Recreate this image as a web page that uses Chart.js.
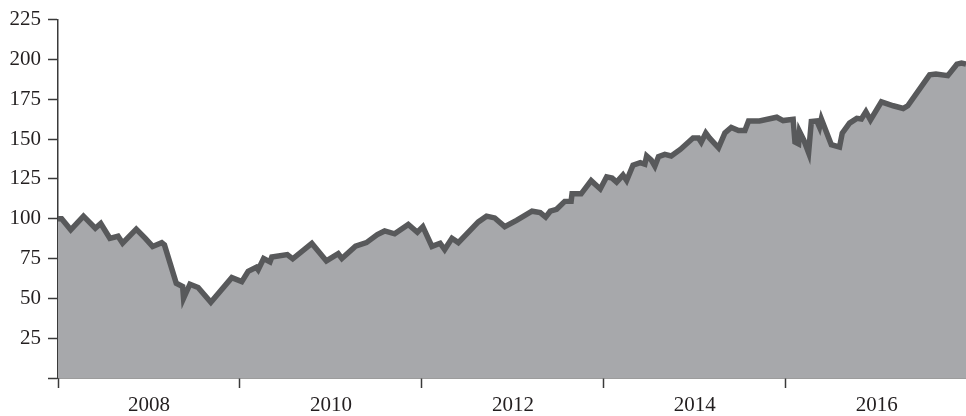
<!DOCTYPE html>
<html>
<head>
<meta charset="utf-8">
<script src="https://cdn.jsdelivr.net/npm/chart.js@4/dist/chart.umd.min.js"></script>
<style>
  html, body { margin: 0; padding: 0; background: #fff; }
  #wrap { width: 966px; height: 416px; }
</style>
</head>
<body>
<div id="wrap"><canvas id="indexChart" width="966" height="416"></canvas></div>
<script>
// decimal years and index values
const years = [
  2007.00, 2007.04, 2007.14, 2007.28, 2007.41, 2007.47, 2007.57, 2007.66, 2007.71, 2007.86,
  2007.96, 2008.04, 2008.14, 2008.17, 2008.30, 2008.37, 2008.38, 2008.45, 2008.54, 2008.68,
  2008.91, 2009.02, 2009.09, 2009.18, 2009.20, 2009.26, 2009.33, 2009.35, 2009.52, 2009.58,
  2009.79, 2009.95, 2010.08, 2010.12, 2010.27, 2010.39, 2010.51, 2010.59, 2010.70, 2010.85,
  2010.95, 2011.01, 2011.11, 2011.20, 2011.25, 2011.33, 2011.40, 2011.62, 2011.71, 2011.80,
  2011.91, 2012.04, 2012.21, 2012.30, 2012.36, 2012.41, 2012.48, 2012.57, 2012.64, 2012.65,
  2012.75, 2012.86, 2012.96, 2013.03, 2013.09, 2013.14, 2013.21, 2013.25, 2013.32, 2013.40,
  2013.45, 2013.47, 2013.52, 2013.56, 2013.60, 2013.67, 2013.74, 2013.84, 2013.98, 2014.04,
  2014.07, 2014.12, 2014.16, 2014.26, 2014.33, 2014.40, 2014.48, 2014.55, 2014.59, 2014.71,
  2014.90, 2014.97, 2015.08, 2015.10, 2015.14, 2015.15, 2015.20, 2015.25, 2015.28, 2015.34,
  2015.37, 2015.39, 2015.50, 2015.59, 2015.62, 2015.70, 2015.78, 2015.83, 2015.88, 2015.93,
  2016.05, 2016.18, 2016.29, 2016.34, 2016.58, 2016.65, 2016.78, 2016.88, 2016.93, 2016.98
];
const values = [
  100, 100, 93, 101.6, 94, 97, 87.7, 89, 84.7, 93.5,
  87.7, 82.6, 85, 83.6, 59.5, 57.4, 50, 58.9, 56.8, 47.5,
  63, 60.5, 67, 69.5, 68, 75, 72.9, 76, 77.5, 74.8,
  84.5, 73.5, 78, 75, 82.8, 85, 90, 92.3, 90.5, 96.4,
  91.5, 95, 82.6, 84.6, 80.6, 87.7, 85, 98, 101.6, 100.5,
  95, 99, 104.7, 103.8, 101, 104.7, 105.9, 110.9, 111, 115.6,
  115.6, 123.9, 118.7, 126.3, 125.5, 123, 127.4, 124, 133.6, 135.2,
  134.2, 139.4, 136.9, 133, 138.9, 140.4, 139.4, 143.5, 150.7, 150.7,
  148, 153.8, 150.7, 144.5, 153.8, 157.3, 155.4, 155.4, 161.4, 161.4,
  163.7, 161.6, 162.4, 148.2, 147, 154.8, 149, 141.4, 161, 161.4,
  157.5, 162.6, 146.5, 145, 153.8, 160, 163, 162.6, 167.2, 162,
  173.4, 170.9, 169.2, 170.9, 190.3, 190.9, 189.8, 197, 197.7, 197
];
const yearLabels = [2008, 2010, 2012, 2014, 2016];
const yTicks = [25, 50, 75, 100, 125, 150, 175, 200, 225];

const points = years.map((yr, i) => ({ x: yr, y: values[i] }));
const textFont = { family: 'Liberation Serif', size: 21 };
const axisColor = '#3a3a3a';

const ctx = document.getElementById('indexChart').getContext('2d');
const indexChart = new Chart(ctx, {
    type: 'line',
    data: {
        datasets: [{
            data: points,
            borderColor: '#58595b',
            backgroundColor: '#a7a8ab',
            borderWidth: 5.5,
            borderJoinStyle: 'miter',
            pointRadius: 0,
            tension: 0,
            fill: 'origin'
        }]
    },
    options: {
        responsive: false,
        animation: false,
        layout: {
            padding: { top: 15, right: 0, bottom: 0, left: 0 }
        },
        plugins: {
            legend: { display: false },
            tooltip: { enabled: false }
        },
        scales: {
            x: {
                type: 'linear',
                min: 2007,
                max: 2016.98,
                afterFit: (scale) => { scale.height = 38; },
                afterBuildTicks: (scale) => {
                    const t = [];
                    for (let y = 2007; y <= 2016; y++) t.push({ value: y });
                    scale.ticks = t;
                },
                border: { display: true, color: axisColor, width: 1.5 },
                grid: {
                    drawOnChartArea: false,
                    drawTicks: true,
                    tickLength: 10,
                    tickWidth: 1.5,
                    tickColor: (c) => (c.tick && c.tick.value % 2 === 1) ? axisColor : 'rgba(0,0,0,0)'
                },
                ticks: {
                    autoSkip: false,
                    maxRotation: 0,
                    padding: 5,
                    color: '#231f20',
                    font: textFont,
                    callback: (v) => yearLabels.includes(v) ? String(v) : ''
                }
            },
            y: {
                min: 0,
                max: 225,
                afterFit: (scale) => { scale.width = 58; },
                border: { display: true, color: axisColor, width: 1.5 },
                grid: {
                    drawOnChartArea: false,
                    drawTicks: true,
                    tickLength: 10,
                    tickWidth: 1.5,
                    tickColor: axisColor
                },
                ticks: {
                    stepSize: 25,
                    padding: 7,
                    color: '#231f20',
                    font: textFont,
                    callback: (v) => yTicks.includes(v) ? String(v) : ''
                }
            }
        }
    }
});
</script>
</body>
</html>
